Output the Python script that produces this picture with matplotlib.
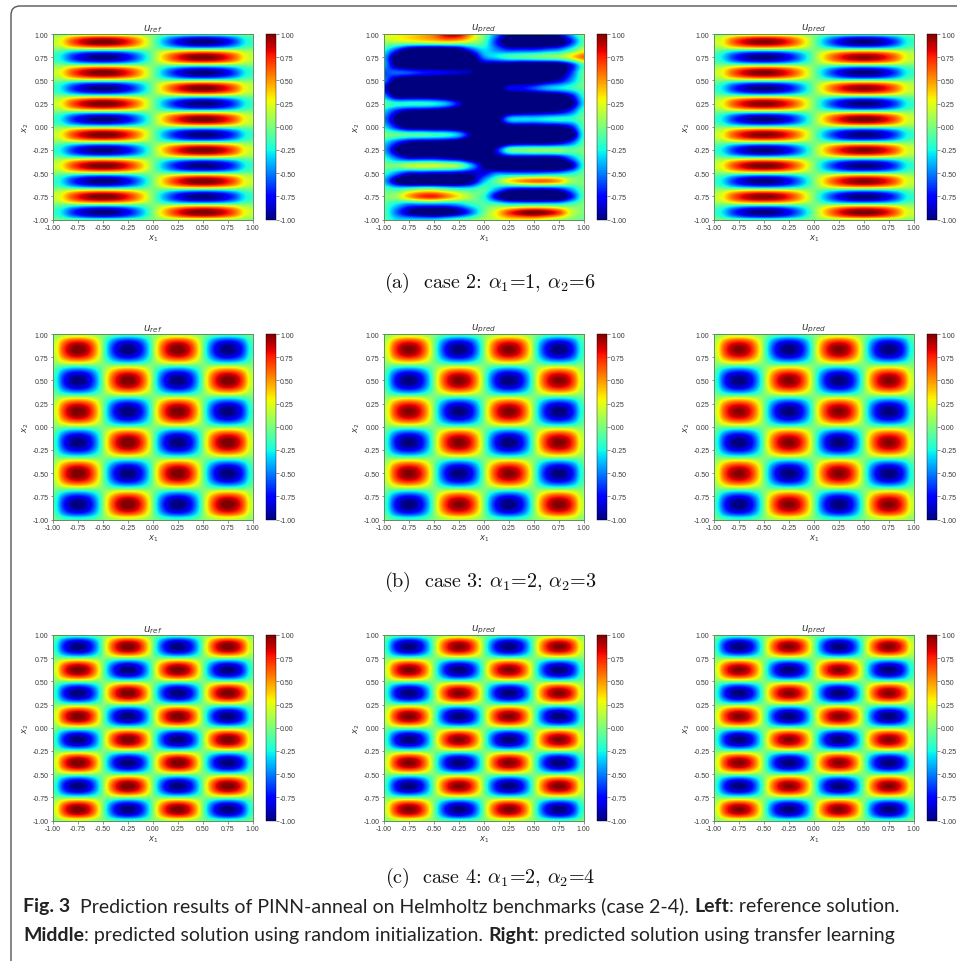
"""Helmholtz benchmark panels: reference and predicted solutions for three cases."""
import numpy as np
import matplotlib
matplotlib.use("Agg")
import matplotlib.pyplot as plt
from matplotlib.patches import FancyBboxPatch

WIDTH, HEIGHT = 957, 962
TICKS = [-1.0, -0.75, -0.5, -0.25, 0.0, 0.25, 0.5, 0.75, 1.0]
COLUMN_TITLES = [r"$u_{ref}$", r"$u_{pred}$", r"$u_{pred}$"]
TEXT_GREY = "#3a3a3a"

# values across one lobe
LOBE_PROFILE = [0.24, 0.62, 0.88, 1.0, 1.0, 0.88, 0.62, 0.24]

# lobe peak values, top row first
CASE2_REF = [[1.0, -1.0], [-1.0, 1.0], [1.0, -1.0], [-1.0, 1.0], [1.0, -1.0], [-1.0, 1.0],
             [1.0, -1.0], [-1.0, 1.0], [1.0, -1.0], [-1.0, 1.0], [1.0, -1.0], [-1.0, 1.0]]
CASE2_TRANSFER = [[0.97, -1.0], [-1.0, 0.95], [0.98, -1.0], [-1.0, 0.95], [0.97, -1.0], [-1.0, 1.0],
                  [0.97, -1.0], [-1.0, 0.97], [1.0, -1.0], [-1.0, 0.97], [0.97, -1.0], [-1.0, 1.0]]
CASE3_REF = [[1.0, -1.0, 1.0, -1.0], [-1.0, 1.0, -1.0, 1.0], [1.0, -1.0, 1.0, -1.0],
             [-1.0, 1.0, -1.0, 1.0], [1.0, -1.0, 1.0, -1.0], [-1.0, 1.0, -1.0, 1.0]]
CASE3_RANDOM = [[0.98, -1.0, 0.98, -1.0], [-1.0, 0.98, -1.0, 0.97], [0.97, -1.0, 0.98, -1.0],
                [-1.0, 0.98, -1.0, 0.98], [0.98, -1.0, 0.97, -1.0], [-1.0, 0.97, -1.0, 0.98]]
CASE3_TRANSFER = [[0.97, -1.0, 0.98, -1.0], [-1.0, 0.97, -1.0, 0.97], [0.96, -1.0, 0.97, -1.0],
                  [-1.0, 0.97, -1.0, 0.96], [0.97, -1.0, 0.97, -1.0], [-1.0, 0.97, -1.0, 0.97]]
CASE4_REF = [[-1.0, 1.0, -1.0, 1.0], [1.0, -1.0, 1.0, -1.0], [-1.0, 1.0, -1.0, 1.0], [1.0, -1.0, 1.0, -1.0],
             [-1.0, 1.0, -1.0, 1.0], [1.0, -1.0, 1.0, -1.0], [-1.0, 1.0, -1.0, 1.0], [1.0, -1.0, 1.0, -1.0]]
CASE4_RANDOM = [[-1.0, 0.97, -1.0, 0.98], [0.98, -1.0, 0.97, -1.0], [-1.0, 0.97, -1.0, 0.97], [0.98, -1.0, 0.97, -1.0],
                [-1.0, 0.97, -1.0, 0.97], [0.98, -1.0, 0.97, -1.0], [-1.0, 0.97, -1.0, 0.98], [0.98, -1.0, 0.98, -1.0]]
CASE4_TRANSFER = [[-1.0, 0.97, -1.0, 0.97], [0.97, -1.0, 0.96, -1.0], [-1.0, 0.96, -1.0, 0.96], [0.97, -1.0, 0.96, -1.0],
                  [-1.0, 0.96, -1.0, 0.96], [0.97, -1.0, 0.96, -1.0], [-1.0, 0.96, -1.0, 0.97], [0.97, -1.0, 0.97, -1.0]]

# failed prediction, case 2, read on a grid: x -1..1 step 0.125, y 1..-1 step 1/12
CASE2_RANDOM = [
    [0.25, 0.3, 0.35, 0.45, 0.6, 0.9, 0.9, 0.45, 0.0, -0.5, -0.9, -1.0, -1.1, -1.0, -0.8, -0.4, 0.05],
    [0.1, 0.15, 0.2, 0.25, 0.3, 0.35, 0.3, 0.15, -0.1, -0.7, -1.3, -1.4, -1.4, -1.4, -1.25, -0.7, -0.1],
    [-0.2, -0.6, -1.0, -1.15, -1.2, -1.15, -1.0, -0.6, -0.3, -0.5, -0.7, -0.7, -0.7, -0.6, -0.5, -0.2, 0.15],
    [-0.4, -1.15, -1.4, -1.4, -1.4, -1.4, -1.35, -1.15, -0.5, -0.3, -0.15, -0.1, -0.05, 0.0, 0.05, 0.3, 0.6],
    [-0.4, -1.05, -1.3, -1.3, -1.3, -1.3, -1.25, -1.1, -1.05, -1.1, -1.15, -1.25, -1.25, -1.25, -1.15, -0.75, -0.1],
    [-0.6, -0.55, -0.6, -0.7, -0.75, -0.8, -0.85, -0.95, -1.3, -1.4, -1.4, -1.4, -1.4, -1.35, -1.2, -0.65, -0.05],
    [-0.5, -1.1, -1.3, -1.35, -1.35, -1.4, -1.4, -1.4, -1.4, -1.4, -1.25, -1.2, -1.2, -1.05, -0.85, -0.45, -0.05],
    [-0.8, -1.35, -1.4, -1.4, -1.4, -1.4, -1.4, -1.4, -1.4, -1.15, -0.8, -0.75, -0.6, -0.4, -0.3, -0.2, -0.05],
    [-0.45, -1.05, -1.1, -1.1, -1.15, -1.25, -1.35, -1.4, -1.4, -1.3, -1.25, -1.25, -1.25, -1.25, -1.15, -0.8, -0.2],
    [-0.1, -0.2, -0.2, -0.2, -0.25, -0.4, -0.8, -1.3, -1.4, -1.4, -1.4, -1.4, -1.4, -1.4, -1.35, -1.05, -0.3],
    [-0.35, -0.75, -1.0, -1.05, -1.1, -1.2, -1.35, -1.4, -1.4, -1.35, -1.2, -1.1, -1.05, -1.0, -0.9, -0.6, -0.1],
    [-0.5, -1.05, -1.35, -1.4, -1.4, -1.4, -1.4, -1.4, -1.4, -1.15, -0.4, -0.3, -0.3, -0.25, -0.2, -0.2, -0.05],
    [-0.3, -0.75, -1.1, -1.15, -1.2, -1.2, -1.3, -1.4, -1.4, -1.3, -1.1, -1.1, -1.1, -1.05, -1.0, -0.75, -0.1],
    [0.0, -0.05, -0.1, -0.1, -0.15, -0.2, -0.4, -0.95, -1.4, -1.4, -1.4, -1.4, -1.4, -1.4, -1.35, -1.15, -0.2],
    [-0.3, -0.65, -0.95, -1.05, -1.05, -1.1, -1.2, -1.4, -1.4, -1.3, -1.1, -1.0, -1.0, -1.0, -0.9, -0.6, -0.1],
    [-0.4, -1.0, -1.35, -1.4, -1.4, -1.4, -1.4, -1.4, -1.4, -0.8, -0.1, 0.0, 0.05, 0.05, 0.05, -0.05, 0.0],
    [-0.2, -0.55, -0.8, -0.8, -0.8, -0.9, -1.0, -1.2, -1.2, -1.1, -1.0, -1.0, -1.0, -1.0, -0.9, -0.5, -0.1],
    [0.0, 0.0, 0.15, 0.2, 0.2, 0.15, 0.05, -0.4, -1.0, -1.35, -1.4, -1.4, -1.4, -1.4, -1.35, -0.95, -0.2],
    [-0.2, -0.5, -0.8, -0.8, -0.85, -0.85, -0.9, -0.9, -0.8, -0.5, -0.5, -0.5, -0.5, -0.45, -0.4, -0.25, -0.05],
    [-0.4, -1.0, -1.35, -1.4, -1.4, -1.4, -1.3, -1.0, -0.4, -0.05, 0.3, 0.5, 0.6, 0.6, 0.45, 0.1, 0.0],
    [-0.1, -0.2, -0.1, 0.0, 0.0, -0.1, -0.2, -0.2, -0.1, -0.4, -0.7, -0.8, -0.8, -0.8, -0.7, -0.4, -0.05],
    [0.0, 0.1, 0.45, 0.7, 0.75, 0.55, 0.3, 0.05, -0.2, -0.85, -1.25, -1.35, -1.4, -1.35, -1.25, -0.75, -0.1],
    [-0.1, -0.3, -0.5, -0.5, -0.5, -0.5, -0.4, -0.2, -0.1, -0.1, -0.2, -0.2, -0.2, -0.2, -0.2, -0.1, 0.0],
    [-0.1, -0.55, -0.95, -1.15, -1.25, -1.15, -0.95, -0.55, -0.05, 0.3, 0.7, 0.95, 1.05, 0.95, 0.7, 0.2, 0.0],
    [-0.1, -0.3, -0.3, -0.3, -0.3, -0.2, -0.1, 0.0, 0.1, 0.2, 0.3, 0.3, 0.3, 0.2, 0.1, 0.0, -0.05],
]

CAPTIONS = [
    r"(a)  case 2: $\alpha_1$=1, $\alpha_2$=6",
    r"(b)  case 3: $\alpha_1$=2, $\alpha_2$=3",
    r"(c)  case 4: $\alpha_1$=2, $\alpha_2$=4",
]
NOTE_LINE1 = [("Fig. 3", "bold"), ("  Prediction results of PINN-anneal on Helmholtz benchmarks (case 2-4). ", "normal"),
              ("Left", "bold"), (": reference solution.", "normal")]
NOTE_LINE2 = [("Middle", "bold"), (": predicted solution using random initialization. ", "normal"),
              ("Right", "bold"), (": predicted solution using transfer learning", "normal")]

COL_LEFT = [53, 384, 714]
ROW_TOP = [35, 335, 636]
CAPTION_Y = [283, 582, 878]


def px_axes(fig, left, top, width, height):
    """Axes placed with pixel coordinates measured from the top left."""
    return fig.add_axes([left / WIDTH, 1 - (top + height) / HEIGHT, width / WIDTH, height / HEIGHT])


def lobes(peaks):
    """Spread the lobe peak values over a fine grid."""
    return np.kron(np.array(peaks), np.outer(LOBE_PROFILE, LOBE_PROFILE))


def two_decimals(val, pos):
    return f"{val:.2f}"


def draw_panel(fig, field, left, top, title, extent):
    ax = px_axes(fig, left, top, 199.5, 185.5)
    im = ax.imshow(field, cmap="jet", vmin=-1, vmax=1, extent=extent, origin="upper",
                   aspect="auto", interpolation="catrom", interpolation_stage="data")
    ax.set_xlim(-1, 1)
    ax.set_ylim(-1, 1)
    ax.set_xticks(TICKS)
    ax.set_yticks(TICKS)
    ax.xaxis.set_major_formatter(two_decimals)
    ax.yaxis.set_major_formatter(two_decimals)
    ax.tick_params(labelsize=5, length=1.8, width=0.4, pad=1.5, colors=TEXT_GREY,
                   labelfontfamily="Liberation Sans")
    ax.set_xlabel(r"$x_1$", fontsize=6, labelpad=1, color=TEXT_GREY)
    ax.set_ylabel(r"$x_2$", fontsize=6, labelpad=1, color=TEXT_GREY)
    ax.set_title(title, fontsize=7.5, pad=2, color=TEXT_GREY)
    for spine in ax.spines.values():
        spine.set_linewidth(0.7)
        spine.set_color("#5f8f5f")

    cax = px_axes(fig, left + 212.5, top, 10, 185.5)
    cb = fig.colorbar(im, cax=cax, ticks=TICKS)
    cb.ax.yaxis.set_major_formatter(two_decimals)
    cb.ax.tick_params(labelsize=5, length=1.8, width=0.4, pad=1.5, colors=TEXT_GREY,
                      labelfontfamily="Liberation Sans")
    cb.outline.set_linewidth(0.3)


def draw_note(fig, overlay, runs, x, y):
    """Caption line with bold and regular runs set one after the other."""
    renderer = fig.canvas.get_renderer()
    for text, weight in runs:
        txt = overlay.text(x, y, text.replace(" ", "\u00a0"), family="Lato", fontweight=weight,
                           fontsize=14.0, color="#222222", va="baseline", ha="left")
        x += txt.get_window_extent(renderer).width


def main():
    fig = plt.figure(figsize=(WIDTH / 100, HEIGHT / 100), dpi=100)
    overlay = fig.add_axes([0, 0, 1, 1], zorder=-1)
    overlay.set_xlim(0, WIDTH)
    overlay.set_ylim(HEIGHT, 0)
    overlay.axis("off")
    overlay.add_patch(FancyBboxPatch((11, 7), 1200, 1200, boxstyle="round,pad=0,rounding_size=9",
                                     fc="none", ec="#555555", lw=1.0, clip_on=False))

    full = (-1, 1, -1, 1)
    step_x, step_y = 0.0625, 1 / 24
    random_extent = (-1 - step_x, 1 + step_x, -1 - step_y, 1 + step_y)
    rows = [
        [(lobes(CASE2_REF), full), (np.array(CASE2_RANDOM), random_extent), (lobes(CASE2_TRANSFER), full)],
        [(lobes(CASE3_REF), full), (lobes(CASE3_RANDOM), full), (lobes(CASE3_TRANSFER), full)],
        [(lobes(CASE4_REF), full), (lobes(CASE4_RANDOM), full), (lobes(CASE4_TRANSFER), full)],
    ]
    for top, row in zip(ROW_TOP, rows):
        for left, title, (field, extent) in zip(COL_LEFT, COLUMN_TITLES, row):
            draw_panel(fig, field, left, top, title, extent)

    for y, caption in zip(CAPTION_Y, CAPTIONS):
        overlay.text(490, y, caption, family="cmr10", math_fontfamily="cm", fontsize=14.5,
                     ha="center", va="center", color="#111111")

    draw_note(fig, overlay, NOTE_LINE1, 23, 912)
    draw_note(fig, overlay, NOTE_LINE2, 23, 941)
    fig.savefig("out.png", dpi=100)
    plt.close(fig)


if __name__ == "__main__":
    main()
